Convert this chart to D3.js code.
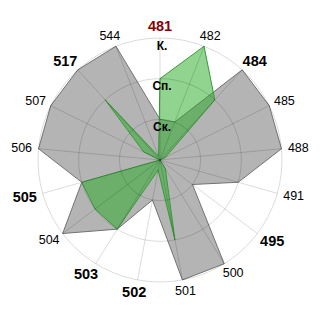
<!DOCTYPE html>
<html>
<head>
<meta charset="utf-8">
<script src="https://cdn.jsdelivr.net/npm/d3@7"></script>
<style>
html,body{margin:0;padding:0;background:#fff;}
svg{display:block;font-family:"Liberation Sans",Arial,sans-serif;}
</style>
</head>
<body>
<svg id="chart" width="320" height="320"></svg>
<script>
const categories = ["481","482","484","485","488","491","495","500","501","502","503","504","505","506","507","517","544"];
const boldCategories = ["481","484","495","502","503","505","517"];
const highlightCategory = "481";
const grayValues  = [1,1,3,3,3,2,1,3,3,1,2,3,2,3,3,3,3];
const greenValues = [2,3,2,0.15,0,0,0,0.25,2,0.25,2,2,2,0,0.45,2,0.1];
const ringValues = [1,2,3];
const ringLabels = ["Ск.","Сп.","К."];

const svg = d3.select("#chart");
const cx = 160, cy = 160, R = 122;
const n = categories.length;
const g = svg.append("g").attr("transform", `translate(${cx},${cy})`);

const rScale = d3.scaleLinear().domain([0, 3]).range([0, R]);
const aScale = d3.scalePoint().domain(categories).range([0, 2 * Math.PI * (n - 1) / n]);

const line = d3.lineRadial()
  .angle((d, i) => aScale(categories[i]))
  .radius(d => rScale(d))
  .curve(d3.curveLinearClosed);

g.append("path").attr("d", line(grayValues))
  .attr("fill", "#b4b4b4").attr("stroke", "#737373").attr("stroke-width", 1);

g.append("path").attr("d", line(greenValues))
  .attr("fill", "rgba(34,170,34,0.5)").attr("stroke", "#3a9a3a").attr("stroke-width", 1);

// grid on top
const grid = g.append("g").attr("fill", "none").attr("stroke", "rgba(0,0,0,0.14)").attr("stroke-width", 1);
grid.selectAll("circle").data(ringValues).join("circle").attr("r", d => rScale(d));
grid.selectAll("line").data(categories).join("line")
  .attr("x1", 0).attr("y1", 0)
  .attr("x2", d => Math.sin(aScale(d)) * R)
  .attr("y2", d => -Math.cos(aScale(d)) * R);

// category labels
const labR = R + 6.5;
const fs = d => boldCategories.includes(d) ? 14.5 : 12.5;
g.selectAll("text.cat").data(categories).join("text")
  .attr("class", "cat")
  .text(d => d)
  .attr("font-size", fs)
  .attr("font-weight", d => boldCategories.includes(d) ? "bold" : "normal")
  .attr("fill", d => d === highlightCategory ? "#8b0000" : "#000")
  .attr("text-anchor", "middle")
  .attr("dominant-baseline", "central")
  .each(function(d) {
    const a = aScale(d), s = Math.sin(a), c = Math.cos(a);
    const bb = this.getBBox();
    const w = bb.width / 2, h = fs(d) * 0.38;
    d3.select(this).attr("x", s * labR + s * w).attr("y", -c * labR - c * h);
  });

// ring labels
g.selectAll("text.ring").data(ringValues).join("text")
  .attr("class", "ring")
  .text((d, i) => ringLabels[i])
  .attr("x", 2)
  .attr("y", d => -rScale(d) + 7.5)
  .attr("text-anchor", "middle")
  .attr("dominant-baseline", "central")
  .attr("font-size", 12)
  .attr("font-weight", "bold")
  .attr("fill", "#000");
</script>
</body>
</html>
